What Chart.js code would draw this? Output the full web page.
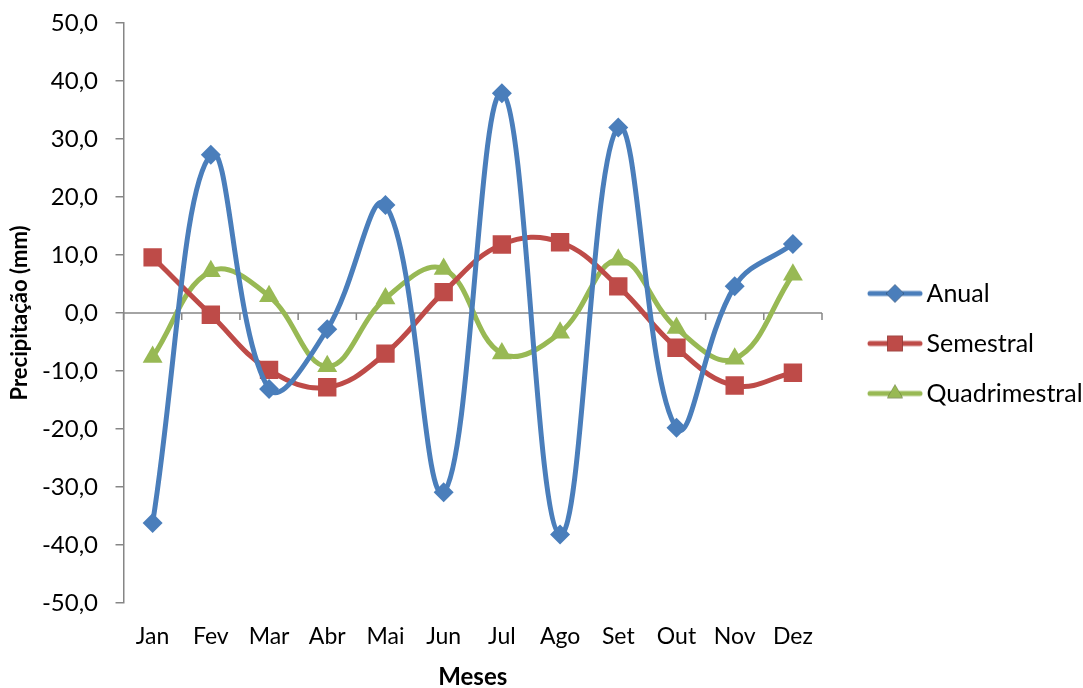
<!DOCTYPE html>
<html>
<head>
<meta charset="utf-8">
<script src="https://cdn.jsdelivr.net/npm/chart.js@4/dist/chart.umd.min.js"></script>
<style>
  html, body { margin: 0; padding: 0; background: #fff; }
  #wrap { width: 1083px; height: 688px; }
</style>
</head>
<body>
<div id="wrap"><canvas id="chart"></canvas></div>
<script>
const months = ['Jan', 'Fev', 'Mar', 'Abr', 'Mai', 'Jun', 'Jul', 'Ago', 'Set', 'Out', 'Nov', 'Dez'];
const anual = [-36.2, 27.3, -13.1, -2.8, 18.6, -30.9, 37.9, -38.2, 32.0, -19.8, 4.6, 11.9];
const semestral = [9.6, -0.3, -9.8, -12.8, -7.0, 3.6, 11.8, 12.2, 4.6, -6.0, -12.5, -10.3];
const quadrimestral = [-7.6, 7.2, 2.9, -9.2, 2.5, 7.6, -7.0, -3.4, 9.2, -2.6, -7.9, 6.6];

const FONT = 'Lato, "Open Sans", sans-serif';
const AXIS_GREY = '#868686';

// small line+marker images for the legend, like excel draws them
function legendIcon(color, style, radius) {
  const c = document.createElement('canvas');
  c.width = 56;
  c.height = 24;
  const g = c.getContext('2d');
  g.strokeStyle = color;
  g.lineWidth = 5;
  g.lineCap = 'round';
  g.beginPath();
  g.moveTo(3, 12);
  g.lineTo(53, 12);
  g.stroke();
  Chart.helpers.drawPoint(g, { pointStyle: style, radius: radius, borderWidth: 0, rotation: 0 }, 28, 12);
  g.fillStyle = color;
  g.fill();
  return c;
}

// x axis line crosses at zero, labels stay at the bottom
const zeroAxis = {
  id: 'zeroAxis',
  beforeDatasetsDraw(chart) {
    const { ctx, chartArea, scales: { x, y } } = chart;
    const py = y.getPixelForValue(0);
    ctx.save();
    ctx.strokeStyle = AXIS_GREY;
    ctx.lineWidth = 1.5;
    ctx.beginPath();
    ctx.moveTo(chartArea.left, py);
    ctx.lineTo(chartArea.right, py);
    for (let i = 0; i <= months.length; i++) {
      const px = x.getPixelForValue(i - 0.5);
      ctx.moveTo(px, py);
      ctx.lineTo(px, py + 7);
    }
    ctx.stroke();
    ctx.restore();
  }
};

// nudge the legend up a little (excel centres it on the whole chart)
const legendShift = {
  id: 'legendShift',
  afterLayout(chart) {
    chart.legend.top -= 2.5;
    chart.legend.bottom -= 2.5;
  }
};

const series = [
  { label: 'Anual', data: anual, color: '#4A7EBB', style: 'rectRot', radius: 10 },
  { label: 'Semestral', data: semestral, color: '#BE4B48', style: 'rect', radius: 13 },
  { label: 'Quadrimestral', data: quadrimestral, color: '#98B954', style: 'triangle', radius: 11.5 }
];

const icons = series.map(s => legendIcon(s.color, s.style, s.style === 'rect' ? 11 : 9));

const ctx = document.getElementById('chart').getContext('2d');
new Chart(ctx, {
  type: 'line',
  data: {
    labels: months,
    datasets: series.map(s => ({
      label: s.label,
      data: s.data,
      borderColor: s.color,
      backgroundColor: s.color,
      borderWidth: 5,
      pointStyle: s.style,
      pointRadius: s.radius,
      pointBorderWidth: 0,
      pointBackgroundColor: s.color,
      tension: 0.4,
      fill: false
    }))
  },
  options: {
    responsive: true,
    maintainAspectRatio: false,
    animation: false,
    layout: { padding: { top: 0, right: 0, left: 2, bottom: -4 } },
    plugins: {
      tooltip: { enabled: false },
      legend: {
        position: 'right',
        maxWidth: 232,
        labels: {
          usePointStyle: true,
          pointStyleWidth: 38,
          padding: 25,
          color: '#000',
          font: { family: FONT, size: 25 },
          generateLabels(chart) {
            const items = Chart.defaults.plugins.legend.labels.generateLabels(chart);
            items.forEach((it, i) => { it.pointStyle = icons[i]; });
            return items;
          }
        }
      }
    },
    scales: {
      x: {
        offset: true,
        grid: { display: false },
        border: { display: false },
        ticks: { color: '#000', font: { family: FONT, size: 23 }, padding: 12 },
        title: {
          display: true,
          text: 'Meses',
          color: '#000',
          font: { family: FONT, size: 24, weight: 'bold' },
          padding: { top: 0, bottom: 0 }
        },
        afterFit(scale) { scale.height = 89; }
      },
      y: {
        min: -50,
        max: 50,
        ticks: {
          stepSize: 10,
          color: '#000',
          padding: 17.5,
          font: { family: FONT, size: 24 },
          callback: v => v.toFixed(1).replace('.', ',')
        },
        grid: { drawOnChartArea: false, drawTicks: true, tickLength: 8, color: AXIS_GREY, lineWidth: 1.5 },
        border: { color: AXIS_GREY, width: 1.5 },
        title: {
          display: true,
          text: 'Precipitação (mm)',
          color: '#000',
          font: { family: FONT, size: 22, weight: 'bold' },
          padding: { top: 4.5, bottom: -8.5 }
        },
        afterFit(scale) {
          scale.paddingTop = 23;
          scale.paddingBottom = 0;
        }
      },
      // empty axis only to keep a gap between plot and legend
      gap: {
        type: 'linear',
        position: 'right',
        display: true,
        grid: { display: false },
        border: { display: false },
        ticks: { display: false },
        afterFit(scale) { scale.width = 29; }
      }
    }
  },
  plugins: [zeroAxis, legendShift]
});
</script>
</body>
</html>
